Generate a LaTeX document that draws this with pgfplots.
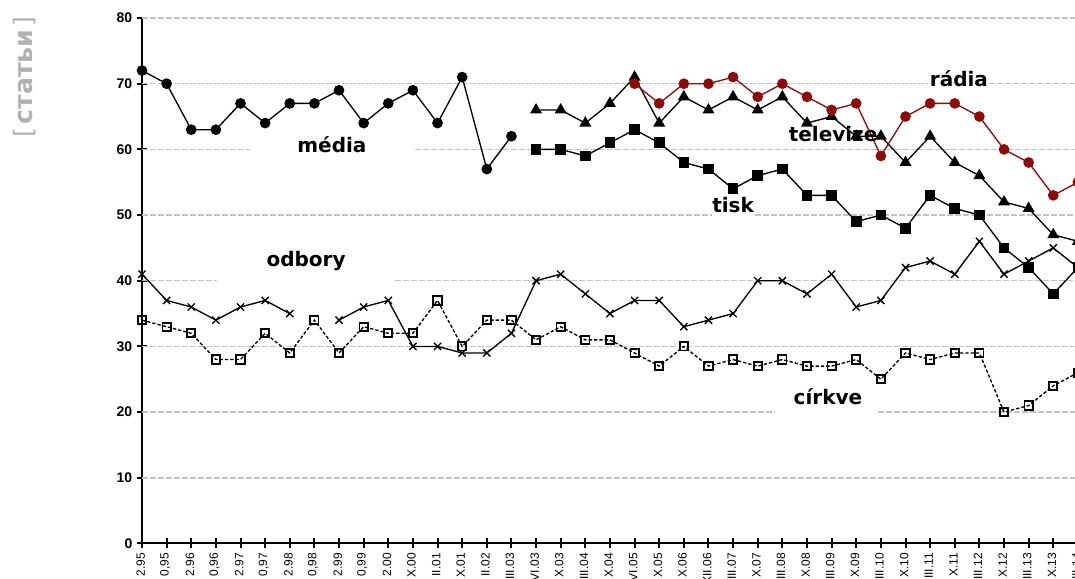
\documentclass[border=0pt]{standalone}
\usepackage{fontspec}
\setmainfont{Liberation Sans}
\newfontfamily\dv{DejaVu Sans}
\usepackage{pgfplots}
\pgfplotsset{compat=1.18}
\usepackage{pgfplotstable}
\definecolor{radred}{RGB}{140,12,12}
\definecolor{gridgray}{RGB}{195,195,195}
\definecolor{labgray}{RGB}{178,178,178}

\pgfplotstableread{
x y
0 72
1 70
2 63
3 63
4 67
5 64
6 67
7 67
8 69
9 64
10 67
11 69
12 64
13 71
14 57
15 62
}\media

\pgfplotstableread{
x y
16 66
17 66
18 64
19 67
20 71
21 64
22 68
23 66
24 68
25 66
26 68
27 64
28 65
29 62
30 62
31 58
32 62
33 58
34 56
35 52
36 51
37 47
38 46
}\televize

\pgfplotstableread{
x y
16 60
17 60
18 59
19 61
20 63
21 61
22 58
23 57
24 54
25 56
26 57
27 53
28 53
29 49
30 50
31 48
32 53
33 51
34 50
35 45
36 42
37 38
38 42
}\tisk

\pgfplotstableread{
x y
20 70
21 67
22 70
23 70
24 71
25 68
26 70
27 68
28 66
29 67
30 59
31 65
32 67
33 67
34 65
35 60
36 58
37 53
38 55
}\radia

\pgfplotstableread{
x y
0 41
1 37
2 36
3 34
4 36
5 37
6 35
7 nan
8 34
9 36
10 37
11 30
12 30
13 29
14 29
15 32
16 40
17 41
18 38
19 35
20 37
21 37
22 33
23 34
24 35
25 40
26 40
27 38
28 41
29 36
30 37
31 42
32 43
33 41
34 46
35 41
36 43
37 45
38 42
}\odbory

\pgfplotstableread{
x y
0 34
1 33
2 32
3 28
4 28
5 32
6 29
7 34
8 29
9 33
10 32
11 32
12 37
13 30
14 34
15 34
16 31
17 33
18 31
19 31
20 29
21 27
22 30
23 27
24 28
25 27
26 28
27 27
28 27
29 28
30 25
31 29
32 28
33 29
34 29
35 20
36 21
37 24
38 26
}\cirkve

\begin{document}
\begin{tikzpicture}[x=1pt,y=1pt]
\begin{axis}[
  at={(0,0)}, anchor=south west,
  scale only axis,
  width=720.4pt, height=394.1pt,
  xmin=0, xmax=39, ymin=0, ymax=80,
  clip=false,
  axis x line*=bottom, axis y line*=left,
  axis line style={line width=1.5pt, black},
  ytick={0,10,...,80},
  xtick={0,...,38},
  xticklabels={2.95,{0,95},2.96,{0,96},2.97,{0,97},2.98,{0,98},2.99,{0,99},2.00,X.00,II.01,X.01,II.02,III.03,VI.03,X.03,III.04,X.04,VI.05,X.05,X.06,XII.06,III.07,X.07,III.08,X.08,III.09,X.09,III.10,X.10,III.11,X.11,III.12,X.12,III.13,X.13,III.14},
  tick style={line width=1.5pt, black},
  major tick length=7.5pt,
  tick align=center,
  yticklabel style={font=\fontsize{10.5}{12}\selectfont\bfseries},
  xticklabel style={rotate=90, anchor=east, font=\fontsize{9}{10}\selectfont, yshift=1pt},
  /pgf/number format/assume math mode=true,
  unbounded coords=jump,
]
% grid lines with gaps behind labels
\tikzset{gl/.style={gridgray, line width=1.1pt, dash pattern=on 4.5pt off 1.5pt}}
\draw[gl] (axis cs:0,10) -- (axis cs:39,10);
\draw[gl] (axis cs:0,20) -- (axis cs:25.7,20);
\draw[gl] (axis cs:29.9,20) -- (axis cs:39,20);
\draw[gl] (axis cs:0,30) -- (axis cs:39,30);
\draw[gl] (axis cs:0,40) -- (axis cs:3.05,40);
\draw[gl] (axis cs:10.27,40) -- (axis cs:39,40);
\draw[gl] (axis cs:0,50) -- (axis cs:23.14,50);
\draw[gl] (axis cs:24.9,50) -- (axis cs:39,50);
\draw[gl] (axis cs:0,60) -- (axis cs:4.38,60);
\draw[gl] (axis cs:11.08,60) -- (axis cs:39,60);
\draw[gl] (axis cs:0,70) -- (axis cs:31.9,70);
\draw[gl] (axis cs:34.4,70) -- (axis cs:39,70);
\draw[gl] (axis cs:0,80) -- (axis cs:39,80);

\addplot[black, line width=1pt, dash pattern=on 2.5pt off 1.5pt, mark=square, mark size=3.1pt, mark options={solid, fill=white, line width=1.4pt}] table[x=x,y=y]{\cirkve};
\addplot[black, line width=1pt, mark=x, mark size=3.8pt, mark options={line width=1pt}] table[x=x,y=y]{\odbory};
\addplot[black, line width=1pt, mark=*, mark size=3.5pt] table[x=x,y=y]{\media};
\addplot[black, line width=1pt, mark=square*, mark size=3.5pt] table[x=x,y=y]{\tisk};
\addplot[black, line width=1pt, mark=triangle*, mark size=4.2pt] table[x=x,y=y]{\televize};
\addplot[radred, line width=1pt, mark=*, mark size=3.5pt, mark options={fill=radred}] table[x=x,y=y]{\radia};

\tikzset{lab/.style={anchor=base, font=\dv\bfseries\fontsize{15}{18}\selectfont, inner sep=0pt}}
\node[lab] at (axis cs:7.71,59.6) {média};
\node[lab] at (axis cs:6.66,42.1) {odbory};
\node[lab] at (axis cs:27.85,21.2) {církve};
\node[lab] at (axis cs:28.06,61.2) {televize};
\node[lab] at (axis cs:33.17,69.5) {rádia};
\node[lab] at (axis cs:24.0,50.4) {tisk};
\end{axis}
\node[rotate=90, text=labgray, inner sep=0pt] at (-88.1,349.9) {\fontsize{19}{22}\selectfont\dv [\hspace{0.12em}{\bfseries статьи}\hspace{0.12em}]};
\pgfresetboundingbox
\useasboundingbox (-106.5,-26.6) rectangle (699.75,407.6);
\end{tikzpicture}
\end{document}
